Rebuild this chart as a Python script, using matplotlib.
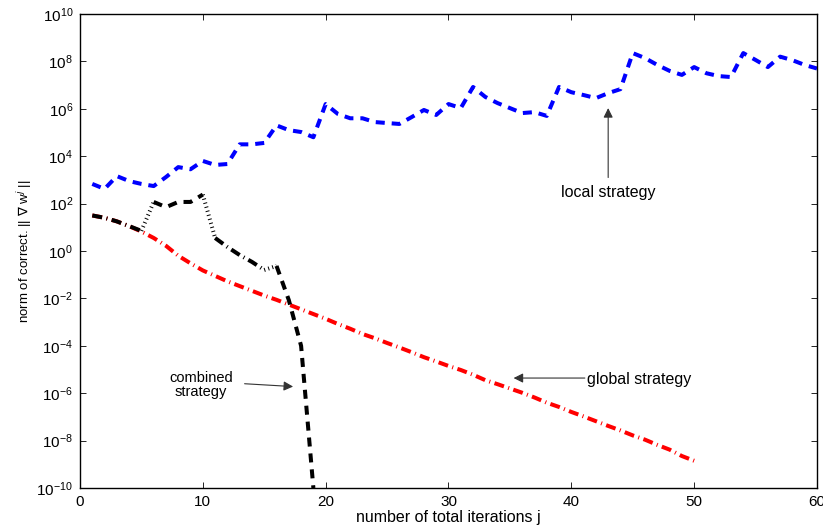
import numpy as np
import matplotlib
matplotlib.use('Agg')
import matplotlib.pyplot as plt

plt.rcParams['font.family'] = ['Liberation Sans', 'DejaVu Sans']
plt.rcParams['lines.scale_dashes'] = False

# --- data (log10 of norm) ---
local_it = list(range(1, 61))
local_exp = [2.83, 2.62, 3.16, 2.95, 2.83, 2.74, 3.12, 3.54, 3.45, 3.80,
             3.63, 3.67, 4.50, 4.50, 4.56, 5.30, 5.10, 5.02, 4.80, 6.20,
             5.78, 5.60, 5.60, 5.44, 5.40, 5.36, 5.65, 5.95, 5.74, 6.20,
             6.03, 6.92, 6.50, 6.24, 6.03, 5.82, 5.86, 5.70, 6.92, 6.70,
             6.58, 6.45, 6.66, 6.83, 8.35, 8.14, 7.85, 7.60, 7.43, 7.76,
             7.50, 7.38, 7.34, 8.35, 8.06, 7.76, 8.20, 8.05, 7.85, 7.70]

global_it = list(range(1, 51))
global_exp = [1.50, 1.40, 1.25, 1.05, 0.82, 0.55, 0.22, -0.20, -0.52, -0.82,
              -1.05, -1.28, -1.48, -1.68, -1.88, -2.06, -2.26, -2.46, -2.66, -2.86,
              -3.08, -3.28, -3.50, -3.68, -3.88, -4.07, -4.27, -4.48, -4.66, -4.85,
              -5.02, -5.22, -5.45, -5.62, -5.80, -5.98, -6.18, -6.40, -6.58, -6.79,
              -6.98, -7.18, -7.38, -7.57, -7.78, -7.96, -8.18, -8.38, -8.65, -8.85]

comb_it = list(range(1, 20))
comb_exp = [1.50, 1.40, 1.25, 1.05, 0.85, 2.07, 1.85, 2.07, 2.07, 2.38,
            0.55, 0.17, -0.17, -0.46, -0.80, -0.63, -2.07, -4.0, -10.0]
# phase of each segment between consecutive points: g=global, l=local, s=switch
comb_phase = ['g', 'g', 'g', 'g', 's', 'l', 'l', 'l', 'l', 's',
              'g', 'g', 'g', 'g', 's', 'l', 'l', 'l']

lw = 2.9
dashed = (0, (6.5, 5.0))
dashdot = (0, (7.2, 3.2, 0.72, 3.2))
dotted = (0, (0.72, 2.3))
phase_style = {'g': dashdot, 'l': dashed, 's': dotted}

fig = plt.figure(figsize=(8.23, 5.26), dpi=100)
ax = fig.add_axes([0.0972, 0.0722, 0.8955, 0.9012])

ax.plot(local_it, np.power(10.0, local_exp), color='#0000ff', lw=lw, linestyle=dashed)
ax.plot(global_it, np.power(10.0, global_exp), color='#ff0000', lw=lw, linestyle=dashdot)

# combined strategy drawn run by run so each phase keeps its own line style
start = 0
for i in range(1, len(comb_phase) + 1):
    if i == len(comb_phase) or comb_phase[i] != comb_phase[start]:
        xs = comb_it[start:i + 1]
        ys = np.power(10.0, comb_exp[start:i + 1])
        ax.plot(xs, ys, color='black', lw=lw, linestyle=phase_style[comb_phase[start]])
        start = i

ax.set_yscale('log')
ax.set_xlim(0, 60)
ax.set_ylim(1e-10, 1e10)
ax.set_xticks(range(0, 61, 10))
ax.set_yticks([10.0 ** k for k in range(-10, 11, 2)])
ax.minorticks_off()
ax.tick_params(direction='in', top=True, right=True, length=4, width=0.6,
               labelsize=11, pad=5)
for s in ax.spines.values():
    s.set_linewidth(1.0)

ax.set_xlabel('number of total iterations j', fontsize=11.5, labelpad=1)
ax.set_ylabel(r'norm of correct. || $\nabla$ w$^j$ ||', fontsize=9.5, labelpad=2)

arrow = dict(arrowstyle='-|>', color='0.2', lw=0.8, mutation_scale=14,
             shrinkA=0, shrinkB=0)
ax.annotate('', xy=(43.0, 10 ** 6.03), xytext=(43.0, 10 ** 3.1), arrowprops=arrow)
ax.text(43.0, 10 ** 2.45, 'local strategy', ha='center', va='center', fontsize=11.5)

ax.annotate('', xy=(35.3, 10 ** -5.36), xytext=(41.1, 10 ** -5.36), arrowprops=arrow)
ax.text(41.3, 10 ** -5.42, 'global strategy', ha='left', va='center', fontsize=11.5)

ax.annotate('', xy=(17.35, 10 ** -5.72), xytext=(13.4, 10 ** -5.6), arrowprops=arrow)
ax.text(9.85, 10 ** -5.65, 'combined\nstrategy', ha='center', va='center',
        fontsize=10.5, linespacing=1.0)

fig.savefig('out.png', dpi=100)
